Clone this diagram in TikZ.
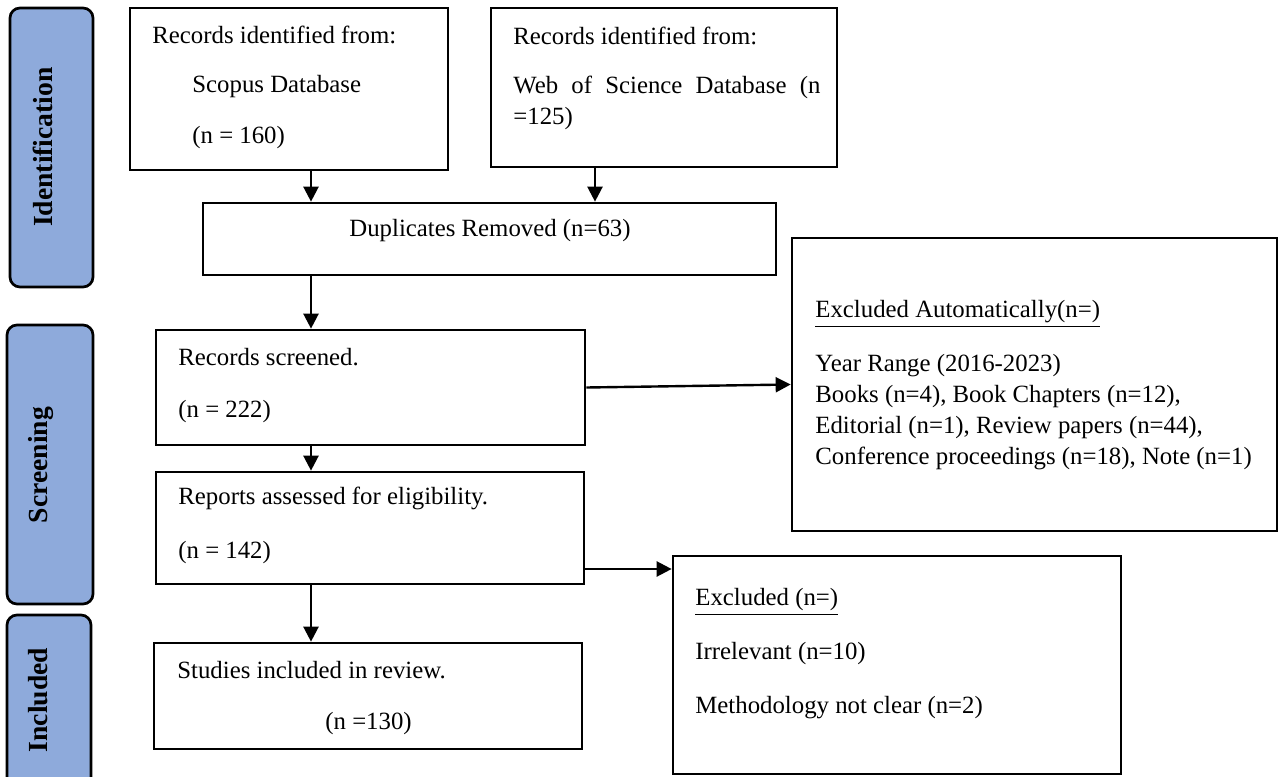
\documentclass[tikz,border=0pt]{standalone}
\usepackage{fontspec}
\setmainfont{Liberation Serif}
\usetikzlibrary{arrows.meta,fit,positioning}
\definecolor{stageblue}{HTML}{8EAADB}

\begin{document}
\begin{tikzpicture}[x=0.5pt,y=0.5pt,yscale=-1,
	every node/.style={font=\fontsize{12.4}{15.5}\selectfont},
	box/.style={draw,line width=1.35pt,inner sep=0pt},
	stage/.style={draw,line width=1.35pt,fill=stageblue,rounded corners=5pt,inner sep=0pt},
	stagelbl/.style={rotate=90,inner sep=0pt,font=\bfseries\fontsize{13.8}{16}\selectfont},
	txt/.style={anchor=west,inner sep=0pt,align=left},
	arr/.style={line width=1.2pt,-{Triangle[length=7.5pt,width=7.5pt]}}]
	\clip (0,0) rectangle (1279,776);
	% stages on the left
	\node [stage,fit={(10,8) (93,287)}] (stIdent) {};
	\node [stage,fit={(7,325) (93,604)}] (stScreen) {};
	\node [stage,fit={(7,615) (91,800)}] (stIncl) {};
	\node [stagelbl] (stIdentLbl) at (43,147) {Identification};
	\node [stagelbl] (stScreenLbl) at (41,465) {Screening};
	\node [stagelbl] (stInclLbl) at (38,700) {Included};
	% boxes
	\node [box,fit={(130,8) (448,170)}] (scopus) {};
	\node [box,fit={(491,8) (837,167)}] (wos) {};
	\node [box,fit={(203,203) (776,275)}] (dup) {};
	\node [box,fit={(156,330) (585,445)}] (screened) {};
	\node [box,fit={(156,472) (584,584)}] (reports) {};
	\node [box,fit={(154,643) (582,749)}] (studies) {};
	\node [box,fit={(792,238) (1277,531)}] (exauto) {};
	\node [box,fit={(673,556) (1121,774)}] (excl) {};
	% texts
	\node [txt] (scopusA) at (152,35) {Records identified from:};
	\node [txt] (scopusB) at (192,87) {Scopus Database};
	\node [txt] (scopusC) at (192,138) {(n = 160)};
	\node [txt] (wosA) at (513,36) {Records identified from:};
	\node [txt] (wosB) at (513,103) {\makebox[153.5pt][s]{Web of Science Database (n}\\=125)};
	\node [anchor=center,inner sep=0pt] (dupA) at (490,231) {Duplicates Removed (n=63)};
	\node [txt] (screenedA) at (178,357) {Records screened.};
	\node [txt] (screenedB) at (178,412) {(n = 222)};
	\node [txt] (reportsA) at (178,498) {Reports assessed for eligibility.};
	\node [txt] (reportsB) at (178,553) {(n = 142)};
	\node [txt] (studiesA) at (177,670) {Studies included in review.};
	\node [txt] (studiesB) at (325,724) {(n =130)};
	\node [txt] (exautoA) at (815,314) {\underline{Excluded Automatically(n=)}};
	\node [txt] (exautoB) at (815,412) {Year Range (2016-2023)\\Books (n=4), Book Chapters (n=12),\\Editorial (n=1), Review papers (n=44),\\Conference proceedings (n=18), Note (n=1)};
	\node [txt] (exclA) at (695,602) {\underline{Excluded (n=)}};
	\node [txt] (exclB) at (695,654) {Irrelevant (n=10)};
	\node [txt] (exclC) at (695,708) {Methodology not clear (n=2)};
	% arrows
	\coordinate (colA) at (311,0);
	\coordinate (colB) at (595,0);
	\coordinate (rowR) at (0,569);
	\draw [arr] (scopus.south -| colA) -- (dup.north -| colA);
	\draw [arr] (wos.south -| colB) -- (dup.north -| colB);
	\draw [arr] (dup.south -| colA) -- (screened.north -| colA);
	\draw [arr] (screened.south -| colA) -- (reports.north -| colA);
	\draw [arr] (reports.south -| colA) -- (studies.north -| colA);
	\draw [arr] (screened.east) -- (exauto.west);
	\draw [arr] (reports.east |- rowR) -- (excl.west |- rowR);
\end{tikzpicture}
\end{document}
